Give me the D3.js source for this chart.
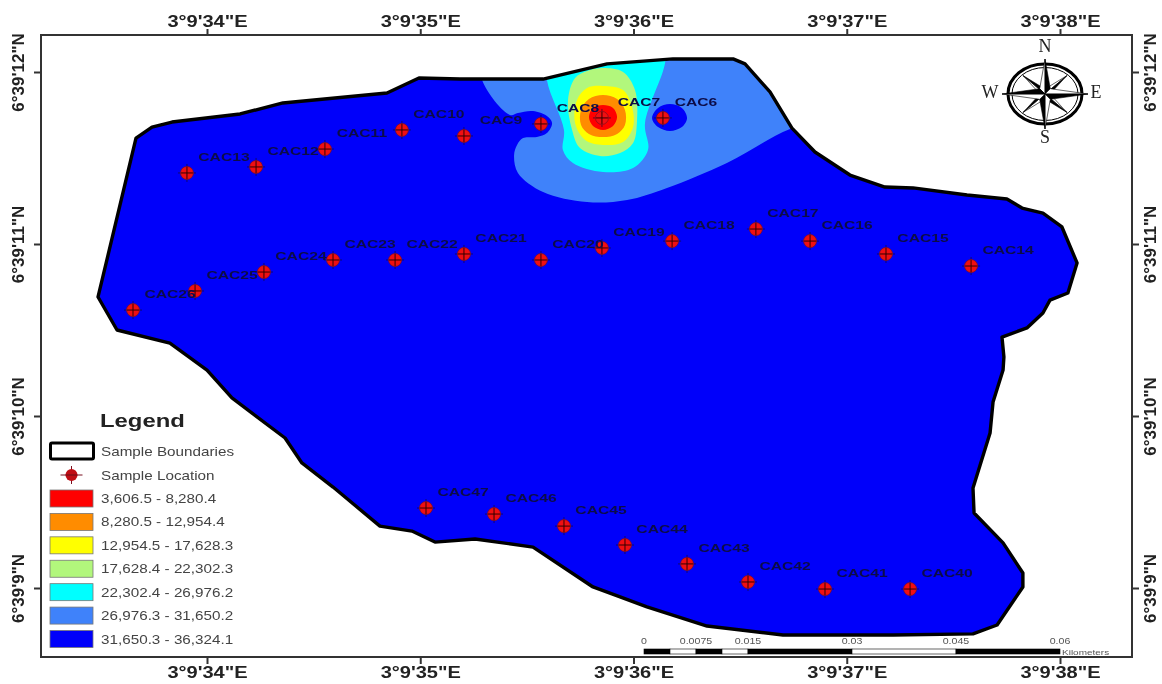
<!DOCTYPE html>
<html>
<head>
<meta charset="utf-8">
<script src="https://cdn.jsdelivr.net/npm/d3@7"></script>
<style>
  html, body { margin: 0; background: #fff; }
  svg { display: block; font-family: "Liberation Sans", Arial, sans-serif; filter: blur(0.45px); }
</style>
</head>
<body>
<svg id="map"></svg>
<script>
// all map values are arc seconds: lon is 3deg 9' + x, lat is 6deg 39' + y
const lonTicks = [34, 35, 36, 37, 38];
const latTicks = [9, 10, 11, 12];

const boundaryLon = [33.489, 33.667, 33.742, 33.836, 34.155, 34.356, 34.844, 34.994, 35.186, 35.576, 35.876, 36.185, 36.467, 36.523, 36.64, 36.743, 36.851, 37.015, 37.179, 37.311, 37.564, 37.751, 37.822, 37.92, 38.009, 38.08, 38.037, 37.953, 37.92, 37.845, 37.728, 37.737, 37.733, 37.686, 37.672, 37.592, 37.597, 37.733, 37.826, 37.826, 37.705, 37.592, 37.217, 36.701, 36.345, 36.063, 35.937, 35.81, 35.529, 35.257, 35.069, 34.961, 34.811, 34.591, 34.445, 34.366, 34.117, 34, 33.826, 33.578];
const boundaryLat = [10.692, 11.616, 11.68, 11.709, 11.756, 11.82, 11.878, 11.965, 11.959, 11.959, 12.047, 12.076, 12.076, 12.047, 11.884, 11.674, 11.535, 11.401, 11.331, 11.326, 11.285, 11.262, 11.209, 11.18, 11.099, 10.89, 10.715, 10.674, 10.599, 10.512, 10.459, 10.343, 10.267, 10.081, 9.901, 9.581, 9.436, 9.262, 9.087, 9.006, 8.785, 8.733, 8.727, 8.727, 8.779, 8.89, 8.948, 9.006, 9.238, 9.285, 9.267, 9.331, 9.36, 9.587, 9.727, 9.872, 10.105, 10.267, 10.424, 10.5];

const sampleNames = ["CAC6", "CAC7", "CAC8", "CAC9", "CAC10", "CAC11", "CAC12", "CAC13", "CAC14", "CAC15", "CAC16", "CAC17", "CAC18", "CAC19", "CAC20", "CAC21", "CAC22", "CAC23", "CAC24", "CAC25", "CAC26", "CAC47", "CAC46", "CAC45", "CAC44", "CAC43", "CAC42", "CAC41", "CAC40"];
const sampleLon = [36.138, 35.852, 35.566, 35.205, 34.914, 34.553, 34.23, 33.906, 37.583, 37.184, 36.828, 36.574, 36.181, 35.852, 35.566, 35.205, 34.882, 34.591, 34.267, 33.944, 33.653, 35.027, 35.346, 35.674, 35.96, 36.251, 36.537, 36.898, 37.297];
const sampleLat = [11.733, 11.733, 11.698, 11.628, 11.663, 11.552, 11.448, 11.413, 10.872, 10.942, 11.017, 11.087, 11.017, 10.977, 10.907, 10.942, 10.907, 10.907, 10.837, 10.727, 10.616, 9.465, 9.43, 9.36, 9.25, 9.14, 9.035, 8.994, 8.994];

// class breaks, lowest value first
const classLabels = ["3,606.5 - 8,280.4", "8,280.5 - 12,954.4", "12,954.5 - 17,628.3", "17,628.4 - 22,302.3", "22,302.4 - 26,976.2", "26,976.3 - 31,650.2", "31,650.3 - 36,324.1"];

// contour outlines
const zone6Lon = [35.29, 35.421, 35.458, 35.529, 35.594, 35.618, 35.594, 35.547, 35.482, 35.454, 35.44, 35.458, 35.576, 35.782, 35.97, 36.157, 36.438, 36.734, 36.921, 36.921, 35.29];
const zone6Lat = [11.953, 11.75, 11.762, 11.773, 11.744, 11.703, 11.645, 11.622, 11.616, 11.576, 11.517, 11.413, 11.302, 11.244, 11.256, 11.326, 11.471, 11.669, 11.721, 12.186, 12.186];
const islandLon = [36.087, 36.115, 36.171, 36.227, 36.251, 36.227, 36.171, 36.115];
const islandLat = [11.733, 11.791, 11.814, 11.791, 11.733, 11.68, 11.657, 11.68];
const zone5Lon = [35.594, 35.674, 35.669, 35.716, 35.857, 35.998, 36.068, 36.054, 36.148, 36.148, 35.594];
const zone5Lat = [11.953, 11.663, 11.547, 11.471, 11.419, 11.442, 11.547, 11.703, 12.052, 12.186, 12.186];
const zone4Lon = [35.782, 35.857, 35.951, 36.007, 36.016, 35.998, 35.937, 35.843, 35.749, 35.712, 35.693, 35.726];
const zone4Lat = [12.006, 12.023, 12, 11.895, 11.703, 11.587, 11.529, 11.512, 11.558, 11.663, 11.837, 11.965];
const zone3Lon = [35.857, 35.951, 35.993, 35.998, 35.951, 35.857, 35.773, 35.726, 35.735, 35.782];
const zone3Lat = [11.919, 11.895, 11.797, 11.68, 11.593, 11.576, 11.605, 11.703, 11.837, 11.907];
const zone2Lon = [35.857, 35.923, 35.96, 35.96, 35.923, 35.857, 35.791, 35.754, 35.754, 35.791];
const zone2Lat = [11.866, 11.843, 11.779, 11.692, 11.64, 11.622, 11.64, 11.692, 11.779, 11.843];
const zone1Lon = [35.857, 35.904, 35.923, 35.904, 35.857, 35.81, 35.791, 35.81];
const zone1Lat = [11.808, 11.791, 11.738, 11.686, 11.663, 11.686, 11.738, 11.791];

const scaleBarBreaks = [0, 0.00375, 0.0075, 0.01125, 0.015, 0.03, 0.045, 0.06];
const scaleBarLabels = [0, 0.0075, 0.015, 0.03, 0.045, 0.06];

const width = 1162;
const height = 684;
const frame = { left: 41, right: 1132, top: 35, bottom: 657 };

const svg = d3.select("#map").attr("width", width).attr("height", height);

const x = d3.scaleLinear().domain([34, 38]).range([207, 1060]);
const y = d3.scaleLinear().domain([9, 12]).range([588, 72]);

const zoneColor = d3.scaleOrdinal()
  .domain(classLabels)
  .range(["#ff0000", "#ff8c00", "#ffff00", "#b2f77c", "#00ffff", "#3f82fa", "#0000fa"]);

const toPoints = (lons, lats) => lons.map((d, i) => [d, lats[i]]);

const outline = d3.line().x(d => x(d[0])).y(d => y(d[1]));
const smooth = d3.line().x(d => x(d[0])).y(d => y(d[1]))
  .curve(d3.curveCatmullRomClosed.alpha(0.5));

const boundary = toPoints(boundaryLon, boundaryLat);

// study area, base class first
svg.append("clipPath").attr("id", "area")
  .append("path").attr("d", outline(boundary) + "Z");

svg.append("path")
  .attr("d", outline(boundary) + "Z")
  .attr("fill", zoneColor(classLabels[6]));

const zones = [
  [zone6Lon, zone6Lat, 5],
  [islandLon, islandLat, 6],
  [zone5Lon, zone5Lat, 4],
  [zone4Lon, zone4Lat, 3],
  [zone3Lon, zone3Lat, 2],
  [zone2Lon, zone2Lat, 1],
  [zone1Lon, zone1Lat, 0]
];

svg.append("g").attr("clip-path", "url(#area)")
  .selectAll("path")
  .data(zones)
  .join("path")
  .attr("d", d => smooth(toPoints(d[0], d[1])))
  .attr("fill", d => zoneColor(classLabels[d[2]]));

svg.append("path")
  .attr("d", outline(boundary) + "Z")
  .attr("fill", "none")
  .attr("stroke", "#000")
  .attr("stroke-width", 3.4)
  .attr("stroke-linejoin", "round");

// sample markers
function drawMarker(g) {
  g.append("line").attr("x1", -9).attr("x2", 9).attr("stroke", "#1a0a30").attr("stroke-width", 0.7);
  g.append("line").attr("y1", -9).attr("y2", 9).attr("stroke", "#1a0a30").attr("stroke-width", 0.7);
  g.append("circle").attr("r", 6.5).attr("fill", "#f00f12").attr("stroke", "#7a1020").attr("stroke-width", 0.7);
  g.append("line").attr("x1", -6).attr("x2", 6).attr("stroke", "#300").attr("stroke-width", 1);
  g.append("line").attr("y1", -6).attr("y2", 6).attr("stroke", "#300").attr("stroke-width", 1);
}

const samples = svg.append("g").selectAll("g")
  .data(sampleNames)
  .join("g")
  .attr("transform", (d, i) => `translate(${x(sampleLon[i])},${y(sampleLat[i])})`);

samples.each(function () { drawMarker(d3.select(this)); });

// the source map has its text stretched sideways, hence the scale() on labels
samples.append("text")
  .attr("transform", d => `translate(${d === "CAC6" ? 33 : 37},-12) scale(1.36,1)`)
  .attr("text-anchor", "middle")
  .attr("font-size", 11.5)
  .attr("font-weight", "bold")
  .attr("fill", "#0c0c48")
  .text(d => d);

// frame and graticule ticks
svg.append("rect")
  .attr("x", frame.left).attr("y", frame.top)
  .attr("width", frame.right - frame.left)
  .attr("height", frame.bottom - frame.top)
  .attr("fill", "none").attr("stroke", "#333").attr("stroke-width", 2);

const lonFormat = d => `3°9'${d}"E`;
const latFormat = d => `6°39'${d}"N`;

function styleAxis(g) {
  g.select(".domain").remove();
  g.selectAll("line").attr("stroke", "#333").attr("stroke-width", 2);
  g.selectAll("text")
    .attr("fill", "#222")
    .attr("font-size", 17)
    .attr("font-weight", "bold")
    .attr("font-family", "Liberation Sans, Arial, sans-serif");
}

svg.append("g").attr("transform", `translate(0,${frame.bottom})`)
  .call(d3.axisBottom(x).tickValues(lonTicks).tickFormat(lonFormat).tickSize(7).tickPadding(2))
  .call(styleAxis)
  .selectAll("text").attr("transform", "scale(1.18,1)");

svg.append("g").attr("transform", `translate(0,${frame.top})`)
  .call(d3.axisTop(x).tickValues(lonTicks).tickFormat(lonFormat).tickSize(6).tickPadding(2))
  .call(styleAxis)
  .selectAll("text").attr("transform", "scale(1.18,1)");

const leftAxis = svg.append("g").attr("transform", `translate(${frame.left},0)`)
  .call(d3.axisLeft(y).tickValues(latTicks).tickFormat(latFormat).tickSize(7))
  .call(styleAxis);
leftAxis.selectAll("text")
  .attr("text-anchor", "middle").attr("dy", null).attr("x", null).attr("y", null)
  .attr("transform", "translate(-17,0) rotate(-90)");

const rightAxis = svg.append("g").attr("transform", `translate(${frame.right},0)`)
  .call(d3.axisRight(y).tickValues(latTicks).tickFormat(latFormat).tickSize(7))
  .call(styleAxis);
rightAxis.selectAll("text")
  .attr("text-anchor", "middle").attr("dy", null).attr("x", null).attr("y", null)
  .attr("transform", "translate(24,0) rotate(-90)");

// legend
const legend = svg.append("g").attr("transform", "translate(50,0)");

legend.append("text")
  .attr("transform", "translate(50,427) scale(1.29,1)")
  .attr("font-size", 18.5).attr("font-weight", "bold")
  .attr("fill", "#222").text("Legend");

legend.append("rect")
  .attr("x", 0.5).attr("y", 443).attr("width", 43).attr("height", 16).attr("rx", 1.5)
  .attr("fill", "#fff").attr("stroke", "#000").attr("stroke-width", 3);

const legendText = (yPos, label) => legend.append("text")
  .attr("transform", `translate(51,${yPos + 4.5}) scale(1.22,1)`)
  .attr("font-size", 12.5)
  .attr("fill", "#444").text(label);

legendText(451, "Sample Boundaries");
legendText(475, "Sample Location");

const legendMarker = legend.append("g").attr("transform", "translate(21.5,475)");
legendMarker.append("line").attr("x1", -11).attr("x2", 11).attr("stroke", "#7a1020").attr("stroke-width", 1);
legendMarker.append("line").attr("y1", -9).attr("y2", 9).attr("stroke", "#7a1020").attr("stroke-width", 1);
legendMarker.append("circle").attr("r", 6).attr("fill", "#c00d14");
legendMarker.append("line").attr("x1", -6).attr("x2", 6).attr("stroke", "#501018").attr("stroke-width", 0.8);

const legendY = d3.scalePoint().domain(classLabels).range([498.5, 639]);

legend.selectAll("rect.swatch")
  .data(classLabels)
  .join("rect")
  .attr("class", "swatch")
  .attr("x", 0).attr("y", d => legendY(d) - 8.5)
  .attr("width", 43).attr("height", 17)
  .attr("fill", d => zoneColor(d))
  .attr("stroke", "#777").attr("stroke-width", 0.8);

classLabels.forEach(d => legendText(legendY(d), d));

// north arrow
const compass = svg.append("g").attr("transform", "translate(1045,94)");
const compassR = d3.scaleLinear().domain([0, 1]).range([0, 43]);

compass.append("ellipse").attr("rx", 37).attr("ry", 30)
  .attr("fill", "none").attr("stroke", "#000").attr("stroke-width", 3);
compass.append("ellipse").attr("rx", 33).attr("ry", 26.5)
  .attr("fill", "none").attr("stroke", "#000").attr("stroke-width", 1);

const rayAngles = [45, 135, 225, 315, 0, 90, 180, 270];
rayAngles.forEach(a => {
  const t = a * Math.PI / 180;
  const long = a % 90 === 0;
  const rx = compassR(long ? 1 : 0.72);
  const ry = long ? 35 : 26;
  const tip = [Math.sin(t) * rx, -Math.cos(t) * ry];
  const side = long ? 7.5 : 5;
  const left = [Math.sin(t - Math.PI / 4) * side, -Math.cos(t - Math.PI / 4) * side];
  const right = [Math.sin(t + Math.PI / 4) * side, -Math.cos(t + Math.PI / 4) * side];
  compass.append("path").attr("d", `M0,0L${left}L${tip}Z`)
    .attr("fill", "#fff").attr("stroke", "#000").attr("stroke-width", 0.6);
  compass.append("path").attr("d", `M0,0L${right}L${tip}Z`)
    .attr("fill", "#000").attr("stroke", "#000").attr("stroke-width", 0.6);
});

const compassText = (dx, dy, label) => compass.append("text")
  .attr("x", dx).attr("y", dy)
  .attr("text-anchor", "middle").attr("dominant-baseline", "middle")
  .attr("font-family", "Liberation Serif, serif").attr("font-size", 18)
  .attr("fill", "#222").text(label);

compassText(0, -46, "N");
compassText(0, 45, "S");
compassText(-55, 0, "W");
compassText(51, 0, "E");

// scale bar
const km = d3.scaleLinear().domain([0, 0.06]).range([644, 1060]);
const barY = 649;

svg.append("g").selectAll("rect")
  .data(d3.pairs(scaleBarBreaks))
  .join("rect")
  .attr("x", d => km(d[0]))
  .attr("y", barY)
  .attr("width", d => km(d[1]) - km(d[0]))
  .attr("height", 5)
  .attr("fill", (d, i) => (i % 2 ? "#fff" : "#000"))
  .attr("stroke", "#000")
  .attr("stroke-width", 0.6);

svg.append("g").selectAll("text")
  .data(scaleBarLabels)
  .join("text")
  .attr("transform", d => `translate(${km(d)},${barY - 5}) scale(1.25,1)`)
  .attr("text-anchor", "middle")
  .attr("font-size", 8.5)
  .attr("fill", "#555")
  .text(d => d);

svg.append("text")
  .attr("transform", `translate(${km(0.06) + 2},${barY + 6}) scale(1.25,1)`)
  .attr("font-size", 8).attr("fill", "#555")
  .text("Kilometers");
</script>
</body>
</html>
